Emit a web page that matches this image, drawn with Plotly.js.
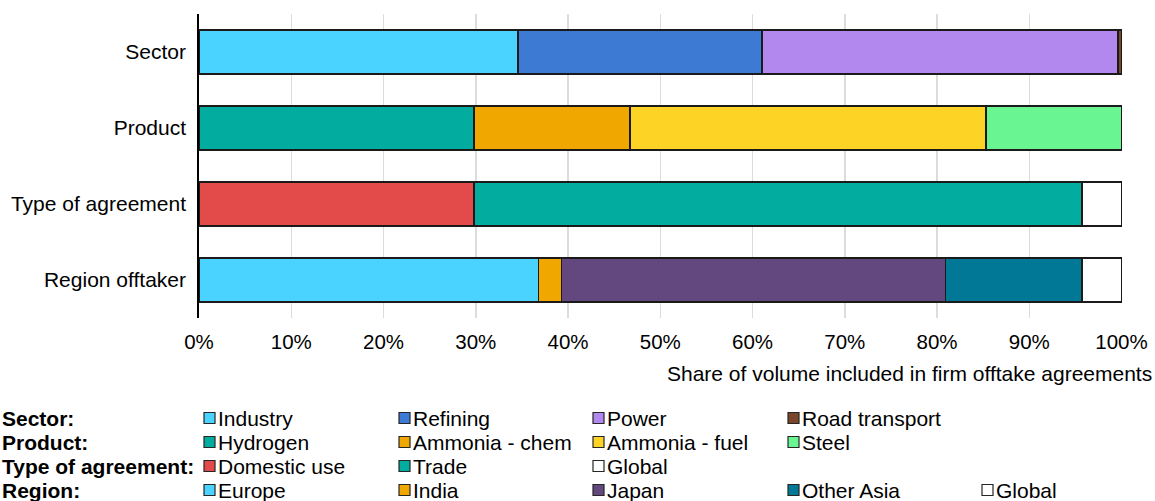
<!DOCTYPE html>
<html>
<head>
<meta charset="utf-8">
<script src="https://cdn.plot.ly/plotly-3.0.1.min.js"></script>
<style>html,body{margin:0;padding:0;background:#fff;}#chart{width:1155px;height:501px;}</style>
</head>
<body>
<div id="chart"></div>
<script>
// ---- data (shares in %) ----
const categories = ['Sector', 'Product', 'Type of agreement', 'Region offtaker'];

const sectorLabels = ['Industry', 'Refining', 'Power', 'Road transport'];
const sectorValues = [34.6, 26.4, 38.6, 0.4];
const sectorColors = ['#4AD3FF', '#3D7AD3', '#B388EE', '#7A4528'];

const productLabels = ['Hydrogen', 'Ammonia - chem', 'Ammonia - fuel', 'Steel'];
const productValues = [29.8, 16.9, 38.6, 14.7];
const productColors = ['#02ADA0', '#F0A800', '#FDD325', '#6AF593'];

const agreementLabels = ['Domestic use', 'Trade', 'Global'];
const agreementValues = [29.8, 65.9, 4.3];
const agreementColors = ['#E34B4B', '#02ADA0', '#FFFFFF'];

const regionLabels = ['Europe', 'India', 'Japan', 'Other Asia', 'Global'];
const regionValues = [36.8, 2.5, 41.6, 14.8, 4.3];
const regionColors = ['#4AD3FF', '#F0A800', '#634880', '#017896', '#FFFFFF'];

const legendRowTitles = ['Sector:', 'Product:', 'Type of agreement:', 'Region:'];
const xTitle = 'Share of volume included in firm offtake agreements';

// ---- build traces ----
const groups = [
  {cat: categories[0], labels: sectorLabels, values: sectorValues, colors: sectorColors},
  {cat: categories[1], labels: productLabels, values: productValues, colors: productColors},
  {cat: categories[2], labels: agreementLabels, values: agreementValues, colors: agreementColors},
  {cat: categories[3], labels: regionLabels, values: regionValues, colors: regionColors}
];

const FONT = 'Liberation Sans, Arial, sans-serif';
const FS = 21;
const traces = [];
groups.forEach(g => {
  g.labels.forEach((lab, i) => {
    traces.push({
      type: 'bar', orientation: 'h',
      y: [g.cat], x: [g.values[i] / 100],
      name: lab, showlegend: false,
      marker: {color: g.colors[i], line: {color: '#1a1a1a', width: 1.5}},
      hoverinfo: 'name+x'
    });
  });
});

// ---- layout geometry (pixels) ----
const W = 1155, H = 501;
const M = {l: 199, r: 33, t: 14, b: 183};
const pw = W - M.l - M.r, ph = H - M.t - M.b;
const px = x => (x - M.l) / pw;
const py = y => (H - M.b - y) / ph;

const annotations = [];
const shapes = [];

// x-axis title (right-aligned)
annotations.push({xref: 'paper', yref: 'paper', x: px(1154), y: py(373), xanchor: 'right', yanchor: 'middle',
  text: xTitle, showarrow: false, font: {family: FONT, size: FS, color: '#000'}});

// custom legend
const rowY = [418, 442, 466, 490];
const colX = [204, 399, 593, 788, 982];
const sq = 11;
groups.forEach((g, r) => {
  annotations.push({xref: 'paper', yref: 'paper', x: px(0), y: py(rowY[r]), xanchor: 'left', yanchor: 'middle',
    text: '<b>' + legendRowTitles[r] + '</b>', showarrow: false, font: {family: FONT, size: FS, color: '#000'}});
  g.labels.forEach((lab, i) => {
    const x0 = colX[i];
    shapes.push({type: 'rect', xref: 'paper', yref: 'paper',
      x0: px(x0), x1: px(x0 + sq), y0: py(rowY[r] - sq / 2), y1: py(rowY[r] + sq / 2),
      fillcolor: g.colors[i], line: {color: '#262626', width: 1.2}});
    annotations.push({xref: 'paper', yref: 'paper', x: px(x0 + sq + 1), y: py(rowY[r]), xanchor: 'left', yanchor: 'middle',
      text: lab, showarrow: false, font: {family: FONT, size: FS, color: '#000'}});
  });
});

const layout = {
  width: W, height: H,
  margin: M,
  paper_bgcolor: '#fff', plot_bgcolor: '#fff',
  barmode: 'stack', bargap: 0.42,
  showlegend: false,
  font: {family: FONT, size: FS, color: '#000'},
  xaxis: {
    range: [0, 1.0005], tickmode: 'linear', tick0: 0, dtick: 0.1, tickformat: '.0%',
    showgrid: true, gridcolor: '#DCDCDC', gridwidth: 1.5,
    zeroline: false, showline: false,
    ticks: 'outside', ticklen: 5, tickcolor: 'rgba(0,0,0,0)',
    tickfont: {family: FONT, size: 20.5, color: '#000'}, fixedrange: true
  },
  yaxis: {
    type: 'category', categoryorder: 'array', categoryarray: categories, autorange: 'reversed',
    showline: true, linecolor: '#000', linewidth: 1.8,
    showgrid: false, zeroline: false,
    ticks: 'outside', ticklen: 7, tickcolor: 'rgba(0,0,0,0)',
    tickfont: {family: FONT, size: FS, color: '#000'}, fixedrange: true
  },
  annotations: annotations,
  shapes: shapes
};

Plotly.newPlot('chart', traces, layout, {displayModeBar: false, staticPlot: true});
</script>
</body>
</html>
